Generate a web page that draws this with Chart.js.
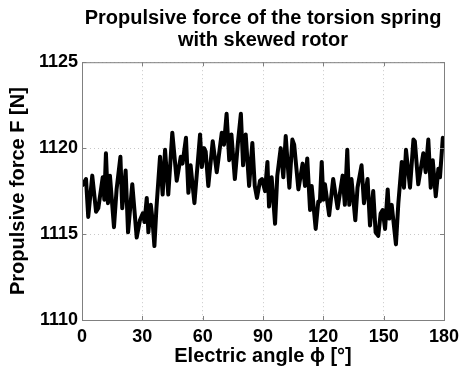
<!DOCTYPE html>
<html>
<head>
<meta charset="utf-8">
<script src="https://cdn.jsdelivr.net/npm/chart.js@4"></script>
<style>
  html, body { margin: 0; padding: 0; background: #fff; }
  #wrap { width: 461px; height: 368px; }
</style>
</head>
<body>
<div id="wrap"><canvas id="c" width="461" height="368"></canvas></div>
<script>
// electric angle [deg] at each vertex of the trace
const angles = [
  0, 2.0, 3.1, 5.1, 7.0, 8.1, 10.3, 11.1, 11.9, 12.9, 13.9, 15.9, 17.2, 19.1, 20.0,
  21.7, 22.9, 25.0, 27.2, 28.8, 30.2, 31.1, 32.2, 33.0, 34.2, 35.0, 36.0, 37.0, 38.8,
  40.1, 41.3, 42.9, 44.9, 47.1, 49.1, 50.0, 51.7, 52.9, 54.0, 55.9, 58.7, 59.6, 60.7,
  61.5, 62.8, 65.0, 67.0, 69.5, 70.6, 71.9, 73.2, 74.3, 76.0, 77.6, 79.0, 80.1, 81.4,
  83.1, 84.7, 85.9, 87.0, 88.5, 89.5, 91.0, 92.2, 93.0, 94.3, 96.0, 97.1, 98.8, 100.1,
  101.3, 103.1, 104.6, 105.5, 107.6, 109.7, 110.9, 112.0, 113.4, 114.2, 116.2, 117.5,
  118.3, 119.2, 120.0, 120.8, 122.9, 124.9, 127.1, 129.6, 130.7, 131.9, 132.9, 134.0,
  135.9, 137.0, 139.0, 140.2, 142.0, 143.2, 144.8, 146.0, 147.3, 148.5, 149.5, 150.7,
  152.0, 152.8, 154.0, 156.1, 157.3, 159.0, 160.1, 161.1, 163.1, 164.8, 165.5, 167.2,
  169.7, 170.9, 172.2, 173.4, 174.4, 175.9, 177.2, 178.0, 179.4, 180
];
// propulsive force [N]
const forces = [
  1117.8, 1118.2, 1116.0, 1118.4, 1116.3, 1116.5, 1118.3, 1117.0, 1119.7, 1116.8, 1118.4, 1115.4, 1117.6, 1119.5, 1116.5,
  1118.7, 1115.1, 1117.9, 1114.8, 1115.8, 1116.2, 1115.7, 1117.1, 1115.1, 1116.7, 1115.9, 1114.3, 1116.5, 1119.5,
  1117.3, 1119.9, 1117.3, 1120.9, 1118.1, 1119.5, 1119.1, 1120.6, 1117.4, 1119.0, 1116.8, 1120.8, 1118.9, 1120.0,
  1119.8, 1117.8, 1120.4, 1118.6, 1120.9, 1120.2, 1122.0, 1119.3, 1120.8, 1118.2, 1120.4, 1122.0, 1119.0, 1120.8,
  1117.8, 1120.3, 1117.8, 1117.1, 1118.1, 1118.2, 1117.5, 1119.2, 1116.6, 1118.3, 1115.6, 1118.4, 1120.0, 1118.3,
  1120.7, 1117.7, 1120.5, 1120.2, 1117.6, 1119.1, 1117.8, 1119.4, 1116.4, 1117.8, 1115.3, 1116.9,
  1116.9, 1119.2, 1117.0, 1117.9, 1116.1, 1118.2, 1116.5, 1118.4, 1116.7, 1119.9, 1116.7, 1118.2,
  1115.8, 1117.7, 1119.0, 1116.8, 1118.2, 1115.5, 1117.5, 1115.1, 1114.9, 1116.2, 1116.4, 1115.3,
  1117.6, 1115.9, 1116.7, 1114.4, 1116.8, 1119.2, 1117.7, 1119.9, 1117.7, 1120.5, 1120.4, 1117.9,
  1119.7, 1118.6, 1120.5, 1117.7, 1119.3, 1117.2, 1118.8, 1118.3, 1120.6, 1120.5
];
const xTicks = [0, 30, 60, 90, 120, 150, 180];
const yTicks = [1110, 1115, 1120, 1125];

const FONT = "'Liberation Sans', Arial, Helvetica, sans-serif";
const gridColor = "#c8c8c8";
const boxColor = "#808080";

// matlab-like axes box with inward ticks
const boxPlugin = {
  id: "box",
  afterDatasetsDraw(chart) {
    const { ctx, chartArea: a, scales } = chart;
    ctx.save();
    ctx.strokeStyle = boxColor;
    ctx.lineWidth = 1;
    ctx.strokeRect(a.left + 0.5, a.top + 0.5, a.right - a.left, a.bottom - a.top);
    const tl = 4;
    ctx.beginPath();
    xTicks.forEach((v) => {
      const px = Math.round(scales.x.getPixelForValue(v)) + 0.5;
      ctx.moveTo(px, a.top); ctx.lineTo(px, a.top + tl);
      ctx.moveTo(px, a.bottom); ctx.lineTo(px, a.bottom - tl);
    });
    yTicks.forEach((v) => {
      const py = Math.round(scales.y.getPixelForValue(v)) + 0.5;
      ctx.moveTo(a.left, py); ctx.lineTo(a.left + tl, py);
      ctx.moveTo(a.right, py); ctx.lineTo(a.right - tl, py);
    });
    ctx.stroke();
    ctx.restore();
  }
};

new Chart(document.getElementById("c"), {
  type: "scatter",
  data: {
    datasets: [{
      data: angles.map((a, i) => ({ x: a, y: forces[i] })),
      showLine: true,
      borderColor: "#000",
      borderWidth: 4,
      borderJoinStyle: "round",
      pointRadius: 0,
      tension: 0
    }]
  },
  options: {
    responsive: false,
    animation: false,
    layout: { padding: { left: 0, right: 17, top: 0, bottom: 0 } },
    plugins: {
      legend: { display: false },
      tooltip: { enabled: false },
      title: {
        display: true,
        fullSize: false,
        text: ["Propulsive force of the torsion spring", "with skewed rotor"],
        color: "#000",
        font: { family: FONT, size: 20, weight: "bold", lineHeight: 1.08 },
        padding: { top: 8, bottom: 11 }
      }
    },
    scales: {
      x: {
        type: "linear",
        min: 0, max: 180,
        afterBuildTicks: (s) => { s.ticks = xTicks.map((v) => ({ value: v })); },
        afterFit: (s) => { s.height = 48; s.paddingLeft = 0; s.paddingRight = 0; },
        ticks: { color: "#000", font: { family: FONT, size: 18, weight: "bold" }, padding: 6, maxRotation: 0 },
        grid: { color: gridColor, drawTicks: false },
        border: { display: false, dash: [1, 3] },
        title: {
          display: true, text: "Electric angle \u03d5 [\u00b0]", color: "#000",
          font: { family: FONT, size: 20, weight: "bold" }, padding: { top: 0, bottom: 0 }
        }
      },
      y: {
        min: 1110, max: 1125,
        afterBuildTicks: (s) => { s.ticks = yTicks.map((v) => ({ value: v })); },
        afterFit: (s) => { s.width = 82; s.paddingTop = 0; s.paddingBottom = 0; },
        ticks: {
          color: "#000", font: { family: FONT, size: 18, weight: "bold" }, padding: 4,
          callback: (v) => String(v)
        },
        grid: { color: gridColor, drawTicks: false },
        border: { display: false, dash: [1, 3] },
        title: {
          display: true, text: "Propulsive force F [N]", color: "#000",
          font: { family: FONT, size: 20, weight: "bold" }, padding: { top: 6, bottom: 0 }
        }
      }
    }
  },
  plugins: [boxPlugin]
});
</script>
</body>
</html>
